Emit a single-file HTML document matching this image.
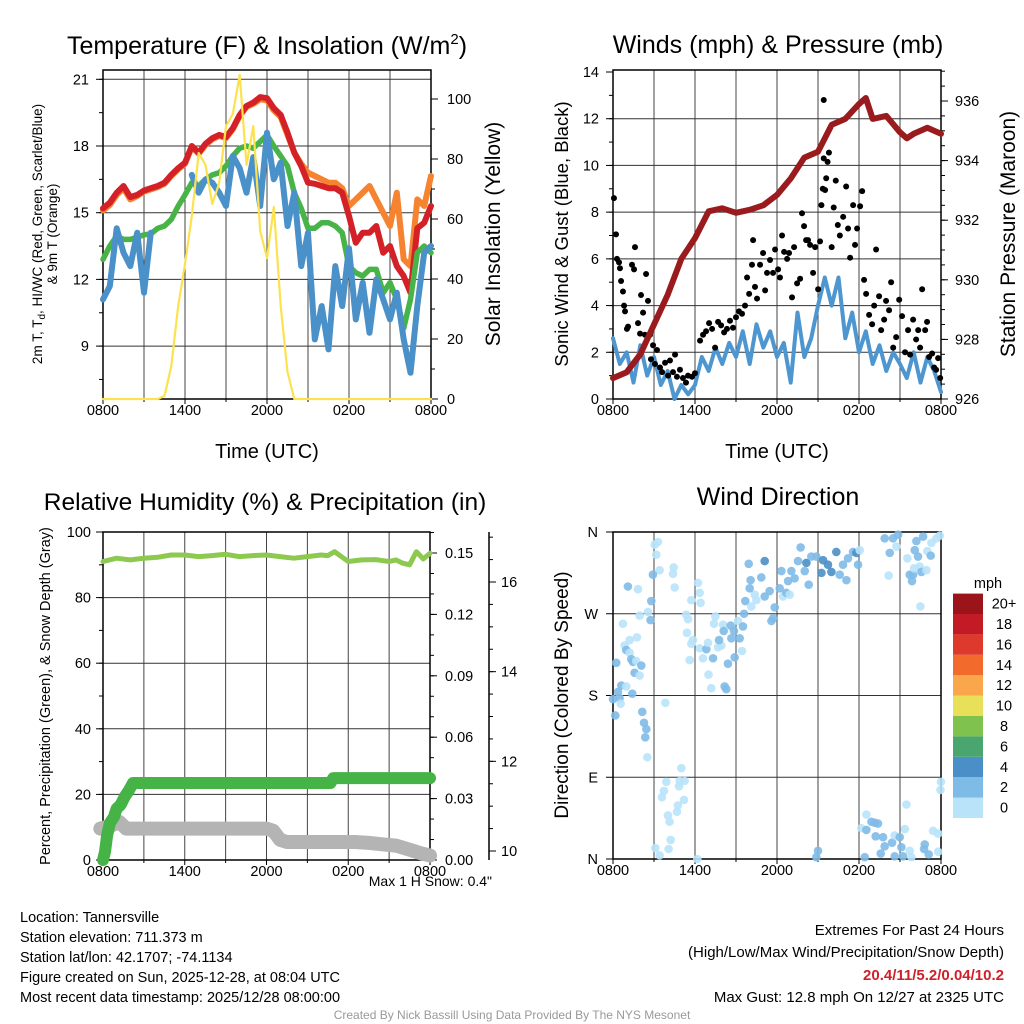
<!DOCTYPE html>
<html><head><meta charset="utf-8"><style>
html,body{margin:0;padding:0;background:#fff;}
svg{display:block;font-family:"Liberation Sans",Arial,sans-serif;}
</style></head><body>
<svg id="chart" width="1024" height="1024" viewBox="0 0 1024 1024" xmlns="http://www.w3.org/2000/svg">
<rect width="1024" height="1024" fill="#fff"/>
<text x="267" y="54" font-size="25" text-anchor="middle">Temperature (F) &amp; Insolation (W/m<tspan dy="-10" font-size="15">2</tspan><tspan dy="10">)</tspan></text>
<text x="778" y="53" font-size="25" text-anchor="middle">Winds (mph) &amp; Pressure (mb)</text>
<text x="265" y="510" font-size="24.5" text-anchor="middle">Relative Humidity (%) &amp; Precipitation (in)</text>
<text x="778" y="505" font-size="25" text-anchor="middle">Wind Direction</text>

<text x="267" y="458" font-size="20" text-anchor="middle">Time (UTC)</text>
<text x="777" y="458" font-size="20" text-anchor="middle">Time (UTC)</text>

<text transform="translate(42,234) rotate(-90)" font-size="13.5" text-anchor="middle">2m T, T<tspan dy="3" font-size="10">d</tspan><tspan dy="-3">, HI/WC (Red, Green, Scarlet/Blue)</tspan></text>
<text transform="translate(57,234) rotate(-90)" font-size="13.5" text-anchor="middle">&amp; 9m T (Orange)</text>
<text transform="translate(500,234) rotate(-90)" font-size="21" text-anchor="middle">Solar Insolation (Yellow)</text>
<text transform="translate(568,234) rotate(-90)" font-size="18.5" text-anchor="middle">Sonic Wind &amp; Gust (Blue, Black)</text>
<text transform="translate(1015,234) rotate(-90)" font-size="21" text-anchor="middle">Station Pressure (Maroon)</text>
<text transform="translate(50,696) rotate(-90)" font-size="14.5" text-anchor="middle">Percent, Precipitation (Green), &amp; Snow Depth (Gray)</text>
<text transform="translate(568,695) rotate(-90)" font-size="19" text-anchor="middle">Direction (Colored By Speed)</text>

<text x="492" y="886" font-size="14" text-anchor="end">Max 1 H Snow: 0.4"</text>

<g font-size="14.5">
<text x="20" y="922">Location: Tannersville</text>
<text x="20" y="942">Station elevation: 711.373 m</text>
<text x="20" y="962">Station lat/lon: 42.1707; -74.1134</text>
<text x="20" y="982">Figure created on Sun, 2025-12-28, at 08:04 UTC</text>
<text x="20" y="1002">Most recent data timestamp: 2025/12/28 08:00:00</text>
</g>
<g font-size="15" text-anchor="end">
<text x="1004" y="935">Extremes For Past 24 Hours</text>
<text x="1004" y="957">(High/Low/Max Wind/Precipitation/Snow Depth)</text>
<text x="1004" y="980" font-weight="bold" fill="#d0202a">20.4/11/5.2/0.04/10.2</text>
<text x="1004" y="1002">Max Gust: 12.8 mph On 12/27 at 2325 UTC</text>
</g>
<text x="512" y="1019" font-size="12" fill="#999" text-anchor="middle">Created By Nick Bassill Using Data Provided By The NYS Mesonet</text>
</svg>
<script>
// ---------- DATA ----------
const halfHours = [0,0.5,1,1.5,2,2.5,3,3.5,4,4.5,5,5.5,6,6.5,7,7.5,8,8.5,9,9.5,10,10.5,11,11.5,12,12.5,13,13.5,14,14.5,15,15.5,16,16.5,17,17.5,18,18.5,19,19.5,20,20.5,21,21.5,22,22.5,23,23.5,24];
const timeTickLabels = ["0800","1400","2000","0200","0800"];
const tempRed = [15.2,15.45,15.9,16.2,15.7,15.8,16.0,16.1,16.2,16.35,16.7,17.0,17.25,18.0,17.7,18.1,18.35,18.5,18.4,18.8,19.4,19.8,19.95,20.2,20.15,19.7,19.4,18.6,17.7,17.1,16.35,16.3,16.2,16.1,16.1,15.9,14.85,13.65,14.1,14.1,14.4,13.2,13.5,12.6,12.15,11.4,14.3,14.55,15.3];
const tempOrange = [15.1,15.35,15.8,16.1,15.6,15.75,15.95,16.05,16.15,16.3,16.65,16.95,17.2,17.95,17.65,18.05,18.3,18.45,18.35,18.75,19.35,19.75,19.9,20.1,20.05,19.6,19.3,18.5,17.7,17.2,16.8,16.65,16.5,16.35,16.35,16.1,15.3,15.6,15.9,16.2,15.6,15.0,14.4,15.9,12.9,12.6,15.6,15.3,16.65];
const dewGreen = [12.9,13.5,13.95,13.8,13.8,13.9,14.0,14.05,14.3,14.4,14.7,15.3,15.8,16.35,16.2,16.5,16.7,16.8,17.1,17.55,17.9,18.0,17.9,18.2,18.5,18.0,17.55,17.1,15.9,15.2,14.3,14.3,14.55,14.55,14.4,14.1,12.6,12.3,12.15,12.45,12.45,11.4,11.85,11.1,9.8,11.1,13.2,13.5,13.2];
const feelsBlue = [11.1,11.7,14.3,13.2,12.6,14.1,11.4,14.1,null,null,null,null,null,16.7,15.9,16.5,16.35,15.9,15.3,17.55,17.0,15.9,17.5,15.3,18.6,16.5,17.25,14.4,15.9,12.6,14.1,9.3,10.8,8.85,12.6,10.8,13.4,10.2,11.85,9.6,12.0,11.1,10.2,11.4,9.3,7.8,10.8,13.2,13.5];
const insolation = [0,0,0,0,0,0,0,0,0,1,11,31,45,61,82,78,65,72,91,95,108,78,91,56,47,64,31,9,0,0,0,0,0,0,0,0,0,0,0,0,0,0,0,0,0,0,0,0,0];
const tempTicks = [9,12,15,18,21];
const solarTicks = [0,20,40,60,80,100];

const windSpeed = [2.6,1.5,2.0,0.7,2.3,1.0,1.8,0.6,1.2,0,0.6,0.2,0.6,1.8,1.2,2.2,1.5,2.4,1.8,2.9,1.5,3.2,2.2,2.9,1.8,2.4,0.7,3.7,1.8,2.6,4.0,5.2,4.0,5.2,2.6,3.7,2.0,2.9,1.5,2.3,1.2,2.0,1.5,0.9,2.0,0.7,1.8,1.2,0.3];
const pressureHours = [0,1,2,3,4,5,6,7,8,9,10,11,12,13,14,15,16,17,18,18.5,19,20,21,21.5,22,23,24];
const pressure = [926.7,926.9,927.5,928.5,929.5,930.7,931.4,932.3,932.4,932.25,932.35,932.5,932.85,933.4,934.1,934.3,935.2,935.4,935.9,936.1,935.4,935.5,934.95,934.75,934.9,935.1,934.9];
const gustHours = [0.07,0.22,0.29,0.44,0.51,0.59,0.73,0.81,0.88,1.02,1.10,1.39,1.54,1.61,1.83,1.98,2.05,2.20,2.34,2.42,2.56,2.71,2.78,2.93,3.07,3.22,3.44,3.59,3.81,4.03,4.17,4.39,4.54,4.68,4.90,5.12,5.34,5.49,5.78,6.00,6.37,6.59,6.81,7.03,7.25,7.47,7.69,7.91,8.13,8.34,8.56,8.78,9.00,9.22,9.44,9.66,9.81,9.96,10.17,10.25,10.39,10.54,10.76,10.98,11.13,11.27,11.49,11.71,11.86,12.08,12.22,12.37,12.52,12.74,12.88,13.10,13.25,13.47,13.69,13.83,13.98,14.13,14.27,14.42,14.64,14.79,15.01,15.15,15.25,15.35,15.42,15.52,15.60,15.70,15.80,15.42,16.00,16.15,16.30,16.45,16.60,16.84,17.06,17.20,17.35,17.57,17.71,17.86,18.08,18.23,18.37,18.52,18.74,18.96,19.11,19.25,19.47,19.62,19.84,19.98,20.20,20.35,20.50,20.72,20.94,21.15,21.37,21.59,21.74,21.96,22.18,22.33,22.47,22.62,22.84,22.98,23.13,23.35,23.50,23.64,23.79,23.94];
const gustSpeed = [8.6,7.05,6.0,5.85,5.6,5.05,4.6,4.0,3.75,3.0,3.1,5.75,5.55,6.5,3.25,2.8,4.45,3.7,2.75,5.35,4.2,2.75,1.7,2.3,1.5,2.1,1.35,1.15,1.55,1.0,1.65,1.15,1.9,0.95,1.25,0.9,0.7,1.0,0.95,1.1,2.5,2.75,2.9,3.25,3.0,2.2,3.3,3.15,2.85,3.0,3.35,3.05,3.5,3.75,3.65,4.0,5.2,4.5,5.75,6.8,4.8,4.3,5.75,6.25,4.65,5.4,5.95,5.4,6.4,5.55,5.2,7.0,6.3,6.0,6.25,4.35,6.5,4.95,5.15,7.95,7.4,6.8,6.8,6.6,5.4,6.5,4.7,6.75,8.3,9.0,12.8,8.95,9.45,10.15,10.55,10.3,6.5,8.2,9.35,7.45,7.0,7.8,9.1,7.3,6.05,8.3,6.6,7.3,8.25,8.9,5.1,4.5,3.6,3.2,4.0,6.4,4.4,2.95,3.4,4.2,3.8,5.0,2.2,2.65,4.25,3.55,2.0,2.95,1.9,3.4,2.55,2.95,2.2,4.7,2.95,3.3,1.8,1.95,1.35,1.25,1.75,0.9];
const windTicks = [0,2,4,6,8,10,12,14];
const pressureTicks = [926,928,930,932,934,936];

const rhHours = [0,1,2,3,4,5,6,7,8,9,10,11,12,13,14,15,16,16.5,17,17.5,18,19,20,21,21.5,22,22.5,23,23.5,24];
const rh = [91,92,91.5,92,92.3,93,93,92.5,92.8,93.2,92.5,92.8,93,92.5,92,92.5,93,92.8,94,92.5,91,91.5,91.6,91,91.5,90.5,90,94,91.8,93.5];
const precipHours = [0,0.15,0.3,0.5,0.8,1.0,1.3,1.6,1.9,2.2,16.7,16.9,24];
const precip = [0,0.004,0.012,0.018,0.021,0.025,0.027,0.031,0.034,0.0376,0.0376,0.040,0.040];
const snowHours = [-0.2,0.5,1.2,1.7,2.5,12,12.5,13,13.5,18,18.5,19.5,20.5,21.5,22.5,23.3,24];
const snowDepth = [10.5,10.55,10.65,10.5,10.5,10.5,10.45,10.25,10.2,10.2,10.2,10.18,10.15,10.12,10.03,9.95,9.9];
const rhTicks = [0,20,40,60,80,100];
const precipTicks = [0,0.03,0.06,0.09,0.12,0.15];
const precipTickLabels = ["0.00","0.03","0.06","0.09","0.12","0.15"];
const snowTicks = [10,12,14,16];

const dirHours = [3.05,3.29,3.17,3.41,2.92,1.09,1.83,2.80,0.73,1.95,2.56,2.75,1.22,1.75,0.85,0.97,1.22,1.34,1.46,1.70,2.07,1.58,1.95,0.24,0.61,0.36,0.97,0.0,0.48,0.56,1.41,3.83,0.17,2.14,2.27,2.44,2.36,2.51,5.00,3.90,4.88,5.24,3.73,3.58,4.83,5.19,4.75,4.68,4.02,4.14,4.22,3.10,4.07,3.41,6.17,
4.51,4.39,4.44,6.22,6.34,6.41,5.73,5.36,5.49,7.49,7.39,5.41,5.85,5.73,6.34,6.83,6.95,7.68,7.93,8.05,8.10,7.76,8.61,8.85,9.15,9.51,8.66,9.27,9.44,8.90,8.41,6.58,7.32,5.61,6.99,7.19,8.17,8.29,
9.68,9.59,10.12,10.37,10.0,10.07,10.85,11.10,9.93,10.49,11.10,11.46,11.59,11.71,11.83,12.20,12.32,12.44,12.68,12.93,12.81,13.05,13.29,13.54,13.73,14.15,14.03,14.32,14.51,14.88,15.25,15.37,15.73,15.98,16.34,16.59,16.83,17.08,17.20,17.56,17.81,17.93,18.05,
19.88,20.49,20.86,20.74,20.25,20.17,21.54,21.71,21.96,21.88,22.08,22.32,22.03,22.44,22.57,22.69,22.20,23.0,23.25,22.93,23.30,23.66,23.91,22.49,
18.54,18.17,18.91,19.15,19.39,18.54,19.22,19.76,19.88,20.42,20.61,20.98,21.10,21.35,21.47,21.71,21.22,20.61,21.83,22.81,22.76,23.10,23.42,23.79,23.79,23.96,24.0,19.59,18.42,15.0,14.88];
const dirDegrees = [346,349,335,318,313,300,297,284,259,268,272,263,241,244,235,230,227,220,217,218,213,205,202,216,191,184,190,176,177,171,182,172,158,162,150,143,134,112,100,85,86,86,75,68,80,65,59,52,48,41,21,12,11,4,0,
299,314,321,304,293,282,285,269,264,267,259,249,241,237,232,231,238,233,235,258,251,241,257,251,262,256,243,243,229,222,215,221,221,219,203,188,190,187,
284,270,278,291,298,307,310,328,325,285,289,295,262,265,277,298,317,289,293,291,306,317,309,328,343,326,317,302,333,333,315,329,324,316,338,313,324,307,331,338,337,324,340,
353,353,357,344,337,312,331,313,313,306,340,333,320,322,316,355,350,339,334,318,348,353,356,278,
49,34,41,40,39,32,25,24,14,18,26,24,13,33,60,9,3,3,2,16,11,5,31,28,8,76,85,6,2,9,2];
const dirSpeed = [1,1,1,1,3,3,1,3,1,1,1,3,1,1,1,3,1,3,3,1,3,3,1,3,3,3,1,3,3,1,3,1,3,3,3,3,3,1,1,1,1,1,1,1,1,1,1,1,1,1,1,1,1,1,1,
1,1,1,1,1,1,1,1,1,1,1,1,1,1,1,3,1,1,1,1,3,3,3,3,1,3,3,3,1,3,3,1,3,1,1,1,3,3,
3,3,1,1,3,3,3,5,3,1,3,3,3,3,3,3,3,1,3,1,3,3,3,3,3,5,3,3,3,3,5,5,5,5,5,3,3,3,3,3,5,3,1,
3,3,3,1,3,1,1,3,3,3,3,3,1,1,3,3,3,1,3,1,1,1,1,1,
1,1,3,3,3,3,3,3,3,3,1,3,3,1,1,1,3,3,1,3,3,3,1,1,1,1,1,3,3,3,3];
const dirTickLabels = ["N","E","S","W","N"];
const speedBins = [0,2,4,6,8,10,12,14,16,18,20];
const speedBinLabels = ["0","2","4","6","8","10","12","14","16","18","20+"];
const speedColors = ["#b8e3f9","#7fbbe7","#4a8fc7","#48a66e","#7fc24e","#e9e05a","#faa64a","#f26a2c","#de3a2b","#c21b26","#9b1419"];

// ---------- HELPERS ----------
const NS = "http://www.w3.org/2000/svg";
const svg = document.getElementById("chart");
function mk(tag, attrs, parent){
  const e = document.createElementNS(NS, tag);
  for (const k in attrs) e.setAttribute(k, attrs[k]);
  (parent || svg).appendChild(e);
  return e;
}
function txt(x,y,s,size,anchor,parent){
  const t = mk("text",{x:x,y:y,"font-size":size,"text-anchor":anchor},parent);
  t.textContent = s;
  return t;
}
function pathD(xs, ys, xf, yf){
  let d = "", pen = false;
  for (let i=0;i<xs.length;i++){
    if (ys[i] === null){ pen=false; continue; }
    d += (pen ? "L" : "M") + xf(xs[i]).toFixed(1) + "," + yf(ys[i]).toFixed(1);
    pen = true;
  }
  return d;
}
function timeScale(x0,x1){ return h => x0 + h*(x1-x0)/24; }
function linScale(v0,p0,v1,p1){ return v => p0 + (v-v0)*(p1-p0)/(v1-v0); }

function frame(name, x0, x1, yTop, yBot, hGridYs){
  const g = mk("g",{stroke:"#000","stroke-width":1,fill:"none"});
  
  
  for (let i=1;i<8;i++){
    const x = x0 + i*(x1-x0)/8;
    const l = mk("line",{x1:x,y1:yTop,x2:x,y2:yBot,stroke:"#444"},g);
    
    
  }
  hGridYs.forEach(y=>{
    const l = mk("line",{x1:x0,y1:y,x2:x1,y2:y,stroke:"#333"},g);
    
    
  });
  const r = mk("rect",{x:x0,y:yTop,width:x1-x0,height:yBot-yTop,stroke:"#000","stroke-width":1.5,fill:"none"});
  
  
  timeTickLabels.forEach((s,i)=>{
    const x = x0 + i*(x1-x0)/4;
    const tk = mk("line",{x1:x,y1:yBot,x2:x,y2:yBot+5,stroke:"#000"});
    
    
    const t = txt(x, yBot+16, s, 14.5, "middle");
    
    
  });
  for (let i=1;i<8;i+=2){
    const x = x0 + i*(x1-x0)/8;
    const tk = mk("line",{x1:x,y1:yBot,x2:x,y2:yBot+3,stroke:"#000"});
    
    
  }
}
function yAxis(name, ticks, labels, scale, xAxis, side, minorStep, lo, hi, labelOffset){
  const dir = side === "left" ? -1 : 1;
  const g = mk("g",{stroke:"#000","stroke-width":1});
  
  
  ticks.forEach((v,i)=>{
    const y = scale(v);
    const l = mk("line",{x1:xAxis,y1:y,x2:xAxis+dir*7,y2:y},g);
    
    
    const t = txt(xAxis + dir*(labelOffset||12), y+5, labels[i], 14.5, side==="left"?"end":"start");
    
    
  });
  if (minorStep){
    for (let v=lo; v<=hi+1e-9; v+=minorStep){
      const y = scale(v);
      const l = mk("line",{x1:xAxis,y1:y,x2:xAxis+dir*4,y2:y},g);
      
      
    }
  }
}

// ---------- PANEL 1: Temperature ----------
const x1s = timeScale(103,431);
const yT = linScale(15,212.7,21,79.3);
const yS = linScale(0,399,100,99);
frame("temperature", 103, 431, 70, 399, tempTicks.map(yT));
yAxis("temperature-y-axis", tempTicks, tempTicks.map(String), yT, 103, "left", 1.5, 7.5, 21, 14);
yAxis("insolation-y-axis", solarTicks, solarTicks.map(String), yS, 431, "right", 10, 0, 100, 16);
const gT = mk("g",{fill:"none","stroke-linejoin":"round","stroke-linecap":"round"});


let p;
p = mk("path",{d:pathD(halfHours,tempOrange,x1s,yT),stroke:"#f5832f","stroke-width":6},gT);


p = mk("path",{d:pathD(halfHours,tempRed,x1s,yT),stroke:"#d42127","stroke-width":6},gT);


p = mk("path",{d:pathD(halfHours,dewGreen,x1s,yT),stroke:"#48b448","stroke-width":5.5},gT);


p = mk("path",{d:pathD(halfHours,feelsBlue,x1s,yT),stroke:"#4a90c9","stroke-width":6},gT);


p = mk("path",{d:pathD(halfHours,insolation,x1s,yS),stroke:"#fde24f","stroke-width":2.2},gT);



// ---------- PANEL 2: Winds ----------
const x2s = timeScale(613,941);
const yW = linScale(0,399,14,72);
const yP = linScale(926,399,936,101);
frame("winds", 613, 941, 70, 399, [2,4,6,8,10,12].map(yW));
yAxis("wind-y-axis", windTicks, windTicks.map(String), yW, 613, "left", 1, 0, 14, 14);
yAxis("pressure-y-axis", pressureTicks, pressureTicks.map(String), yP, 941, "right", 0.5, 926, 937, 14);
const gW = mk("g",{fill:"none","stroke-linejoin":"round","stroke-linecap":"round"});


p = mk("path",{d:pathD(halfHours,windSpeed,x2s,yW),stroke:"#4d96d0","stroke-width":4},gW);


gustHours.forEach((h,i)=>{
  const c = mk("circle",{cx:x2s(h),cy:yW(gustSpeed[i]),r:3,fill:"#000"},gW);
  
  
});
p = mk("path",{d:pathD(pressureHours,pressure,x2s,yP),stroke:"#991b1e","stroke-width":6},gW);



// ---------- PANEL 3: Humidity ----------
const x3s = timeScale(103,430);
const yRH = linScale(0,860,100,532);
const yPr = linScale(0,860,0.15,553);
const ySn = linScale(10,851,16,582);
frame("humidity", 103, 430, 532, 860, [20,40,60,80].map(yRH));
yAxis("humidity-y-axis", rhTicks, rhTicks.map(String), yRH, 103, "left", 10, 0, 100, 12);
yAxis("precip-y-axis", precipTicks, precipTickLabels, yPr, 430, "right", 0.01, 0, 0.16, 15);
const snowAx = mk("line",{x1:489,y1:532,x2:489,y2:860,stroke:"#000","stroke-width":1.5});


yAxis("snow-depth-y-axis", snowTicks, snowTicks.map(String), ySn, 489, "right", 0.5, 10, 17, 12);
const gH = mk("g",{fill:"none","stroke-linejoin":"round","stroke-linecap":"round"});


p = mk("path",{d:pathD(snowHours,snowDepth,x3s,ySn),stroke:"#b4b4b4","stroke-width":14},gH);


p = mk("path",{d:pathD(precipHours,precip,x3s,yPr),stroke:"#45b345","stroke-width":12},gH);


p = mk("path",{d:pathD(rhHours,rh,x3s,yRH),stroke:"#8dc94f","stroke-width":5},gH);



// ---------- PANEL 4: Wind direction ----------
const x4s = timeScale(613,941);
const yD = linScale(0,859,360,532);
frame("direction", 613, 941, 532, 859, [90,180,270].map(yD));
dirTickLabels.forEach((s,i)=>{
  const y = yD(i*90);
  const l = mk("line",{x1:613,y1:y,x2:606,y2:y,stroke:"#000"});
  
  
  const t = txt(598, y+5, s, 14.5, "end");
  
  
});
function speedColor(v){
  let idx = 0;
  for (let i=0;i<speedBins.length;i++) if (v >= speedBins[i]) idx = i;
  return speedColors[idx];
}
const gD = mk("g",{});


dirHours.forEach((h,i)=>{
  const c = mk("circle",{cx:x4s(h),cy:yD(dirDegrees[i]),r:4.3,fill:speedColor(dirSpeed[i]),"fill-opacity":0.9},gD);
  
  
});
const gC = mk("g",{});


const cbT = txt(988, 588, "mph", 14.5, "middle", gC);


speedBins.forEach((b,i)=>{
  const y = 818 - (i+1)*20.4;
  const r = mk("rect",{x:953,y:y,width:30,height:20.4,fill:speedColors[i]},gC);
  
  
  const t = txt(1004, y+15, speedBinLabels[i], 14.5, "middle", gC);
  
  
});
</script>
</body></html>
